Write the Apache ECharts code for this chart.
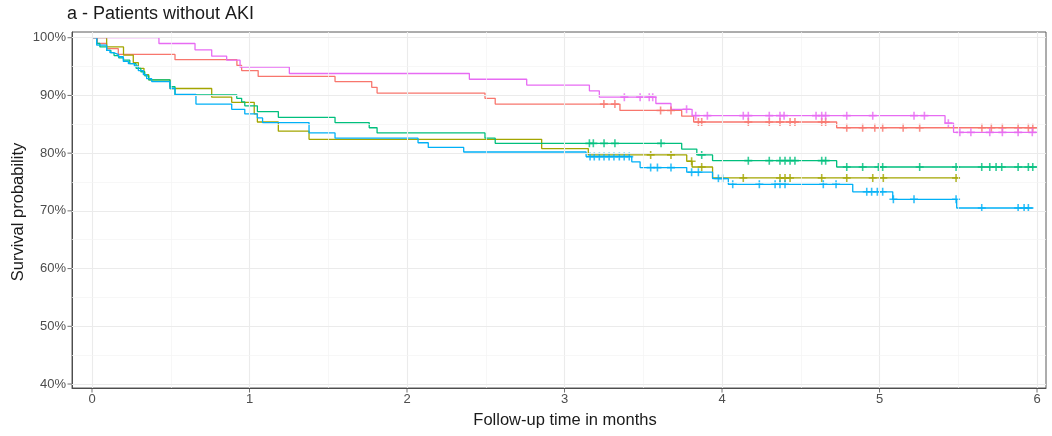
<!DOCTYPE html>
<html>
<head>
<meta charset="utf-8">
<script src="https://cdn.jsdelivr.net/npm/echarts@6/dist/echarts.min.js"></script>
<style>
  html, body { margin: 0; padding: 0; background: #ffffff; }
  #chart { width: 1052px; height: 436px; }
</style>
</head>
<body>
<div id="chart"></div>
<script>
// Kaplan-Meier estimates: each step time and the survival reached at it
const redTimes = [0, 0.034, 0.093, 0.167, 0.527, 0.92, 0.95, 1.055, 1.543, 1.776, 1.81, 2.495, 2.56, 3.352, 3.744, 3.82, 4.728];
const redSurv  = [1.0, 0.990, 0.981, 0.971, 0.962, 0.952, 0.943, 0.933, 0.924, 0.914, 0.904, 0.895, 0.885, 0.874, 0.864, 0.854, 0.844];
const redEnd = 6.0;
const redCensor = [3.25, 3.32, 3.61, 3.676, 3.85, 3.871, 4.167, 4.30, 4.368, 4.432, 4.463, 4.633, 4.658, 4.792, 4.893, 4.97, 5.02, 5.15, 5.255, 5.65, 5.71, 5.78, 5.88, 5.945, 5.973];

const oliveTimes = [0, 0.093, 0.2, 0.262, 0.294, 0.33, 0.36, 0.495, 0.76, 0.887, 1.03, 1.05, 1.183, 1.378, 2.855, 3.151, 3.776, 3.81, 3.94];
const oliveSurv  = [1.0, 0.984, 0.970, 0.957, 0.947, 0.936, 0.927, 0.912, 0.897, 0.888, 0.868, 0.854, 0.838, 0.824, 0.808, 0.797, 0.786, 0.776, 0.757];
const oliveEnd = 5.51;
const oliveCensor = [3.547, 3.676, 3.807, 3.871, 4.135, 4.368, 4.4, 4.432, 4.633, 4.792, 4.957, 5.024, 5.486];

const greenTimes = [0, 0.03, 0.05, 0.093, 0.12, 0.14, 0.17, 0.2, 0.24, 0.28, 0.31, 0.335, 0.36, 0.495, 0.527, 0.919, 0.95, 0.97, 1.05, 1.183, 1.543, 1.76, 1.81, 2.495, 2.56, 3.744, 3.84, 3.94, 4.728];
const greenSurv  = [1.0, 0.990, 0.984, 0.978, 0.974, 0.969, 0.965, 0.961, 0.955, 0.947, 0.941, 0.934, 0.927, 0.915, 0.901, 0.895, 0.889, 0.882, 0.872, 0.862, 0.853, 0.844, 0.835, 0.826, 0.817, 0.807, 0.797, 0.787, 0.776];
const greenEnd = 6.0;
const greenCensor = [3.158, 3.183, 3.251, 3.32, 3.613, 3.871, 4.167, 4.30, 4.368, 4.4, 4.432, 4.463, 4.633, 4.658, 4.792, 4.893, 4.993, 5.02, 5.255, 5.486, 5.649, 5.70, 5.74, 5.776, 5.88, 5.945, 5.973];

const blueTimes = [0, 0.03, 0.093, 0.114, 0.135, 0.167, 0.199, 0.231, 0.269, 0.294, 0.326, 0.347, 0.379, 0.495, 0.527, 0.66, 0.887, 0.97, 1.05, 1.083, 1.378, 1.543, 2.07, 2.135, 2.36, 3.137, 3.427, 3.48, 3.776, 3.94, 4.04, 4.83, 5.084, 5.49];
const blueSurv  = [1.0, 0.987, 0.978, 0.974, 0.971, 0.967, 0.959, 0.955, 0.951, 0.943, 0.936, 0.929, 0.924, 0.912, 0.902, 0.885, 0.876, 0.868, 0.861, 0.853, 0.835, 0.826, 0.818, 0.810, 0.802, 0.794, 0.785, 0.775, 0.767, 0.756, 0.746, 0.733, 0.720, 0.705];
const blueEnd = 5.977;
const blueCensor = [3.162, 3.189, 3.221, 3.251, 3.283, 3.314, 3.348, 3.379, 3.411, 3.547, 3.59, 3.676, 3.807, 3.85, 3.977, 4.004, 4.068, 4.237, 4.337, 4.368, 4.4, 4.643, 4.724, 4.919, 4.95, 4.986, 5.02, 5.088, 5.219, 5.486, 5.649, 5.88, 5.918, 5.945];

const pinkTimes = [0, 0.425, 0.654, 0.76, 0.855, 0.94, 1.253, 2.396, 2.76, 3.158, 3.221, 3.58, 3.676, 3.81, 5.416, 5.47];
const pinkSurv  = [1.0, 0.990, 0.979, 0.968, 0.961, 0.949, 0.938, 0.928, 0.918, 0.908, 0.897, 0.886, 0.876, 0.865, 0.852, 0.836];
const pinkEnd = 6.0;
const pinkCensor = [3.38, 3.48, 3.538, 3.56, 3.775, 3.833, 3.907, 4.135, 4.167, 4.30, 4.368, 4.394, 4.597, 4.633, 4.658, 4.792, 4.957, 5.219, 5.285, 5.437, 5.51, 5.58, 5.70, 5.78, 5.88, 5.97];

// Axis ticks
const xTicks = [0, 1, 2, 3, 4, 5, 6];
const xMinor = [0.5, 1.5, 2.5, 3.5, 4.5, 5.5];
const yTicks = [0.4, 0.5, 0.6, 0.7, 0.8, 0.9, 1.0];
const yMinor = [0.45, 0.55, 0.65, 0.75, 0.85, 0.95];

const X_MIN = -0.127, X_MAX = 6.057;
const Y_MIN = 0.3931, Y_MAX = 1.0099;

const groups = [
  { name: 'g1', color: '#F8766D', times: redTimes,   surv: redSurv,   end: redEnd,   censor: redCensor },
  { name: 'g2', color: '#A3A500', times: oliveTimes, surv: oliveSurv, end: oliveEnd, censor: oliveCensor },
  { name: 'g3', color: '#00BF7D', times: greenTimes, surv: greenSurv, end: greenEnd, censor: greenCensor },
  { name: 'g4', color: '#00B0F6', times: blueTimes,  surv: blueSurv,  end: blueEnd,  censor: blueCensor },
  { name: 'g5', color: '#E76BF3', times: pinkTimes,  surv: pinkSurv,  end: pinkEnd,  censor: pinkCensor }
];

function survivalAt(times, surv, t) {
  let v = surv[0];
  for (let i = 0; i < times.length; i++) {
    if (times[i] <= t) v = surv[i]; else break;
  }
  return v;
}

const FONT = 'Liberation Sans, Arial, sans-serif';
const PLUS = 'path://M4,0H6V4H10V6H6V10H4V6H0V4H4Z';
const AXIS_GREY = '#4d4d4d';

const gridLines = [];
xTicks.forEach(v => gridLines.push({ xAxis: v, lineStyle: { color: '#ebebeb', width: 1.1, type: 'solid' } }));
xMinor.forEach(v => gridLines.push({ xAxis: v, lineStyle: { color: '#f4f4f4', width: 0.7, type: 'solid' } }));
yTicks.forEach(v => gridLines.push({ yAxis: v, lineStyle: { color: '#ebebeb', width: 1.1, type: 'solid' } }));
yMinor.forEach(v => gridLines.push({ yAxis: v, lineStyle: { color: '#f4f4f4', width: 0.7, type: 'solid' } }));

const series = [{
  type: 'line',
  data: [[0, 1]],
  showSymbol: false,
  lineStyle: { opacity: 0 },
  z: 1,
  silent: true,
  markLine: {
    silent: true,
    symbol: ['none', 'none'],
    label: { show: false },
    animation: false,
    data: gridLines
  }
}];

// Outside tick marks on the left and bottom axis lines
series.push({
  type: 'scatter',
  data: yTicks.map(v => [X_MIN, v]),
  symbol: 'rect',
  symbolSize: [4, 1],
  symbolOffset: [-2.5, 0],
  itemStyle: { color: AXIS_GREY },
  clip: false,
  silent: true,
  z: 5
});
series.push({
  type: 'scatter',
  data: xTicks.map(v => [v, Y_MIN]),
  symbol: 'rect',
  symbolSize: [1, 4],
  symbolOffset: [0, 2.5],
  itemStyle: { color: AXIS_GREY },
  clip: false,
  silent: true,
  z: 5
});

groups.forEach(g => {
  const pts = g.times.map((t, i) => [t, g.surv[i]]);
  pts.push([g.end, g.surv[g.surv.length - 1]]);
  series.push({
    name: g.name,
    type: 'line',
    step: 'end',
    data: pts,
    showSymbol: false,
    lineStyle: { color: g.color, width: 1.3 },
    z: 3
  });
  series.push({
    name: g.name,
    type: 'scatter',
    data: g.censor.map(t => [t, survivalAt(g.times, g.surv, t)]),
    symbol: PLUS,
    symbolSize: 8,
    itemStyle: { color: g.color },
    z: 4
  });
});

const chart = echarts.init(document.getElementById('chart'), null, { renderer: 'canvas' });
chart.setOption({
  animation: false,
  backgroundColor: '#ffffff',
  grid: {
    left: 72, right: 6, top: 32, bottom: 48,
    show: true, borderColor: '#5a5a5a', borderWidth: 1, backgroundColor: 'transparent'
  },
  xAxis: {
    type: 'value',
    min: X_MIN,
    max: X_MAX,
    axisLine: { show: true, onZero: false, lineStyle: { color: AXIS_GREY, width: 1 } },
    axisTick: { show: false },
    axisLabel: { customValues: xTicks, color: AXIS_GREY, fontSize: 13, fontFamily: FONT, margin: 5 },
    splitLine: { show: false }
  },
  yAxis: {
    type: 'value',
    min: Y_MIN,
    max: Y_MAX,
    axisLine: { show: true, onZero: false, lineStyle: { color: AXIS_GREY, width: 1 } },
    axisTick: { show: false },
    axisLabel: {
      customValues: yTicks, color: AXIS_GREY, fontSize: 13, fontFamily: FONT, margin: 6,
      formatter: v => Math.round(v * 100) + '%'
    },
    splitLine: { show: false }
  },
  graphic: [
    { type: 'text', left: 67, top: 5, style: { text: 'a - Patients without AKI', font: '18px ' + FONT, fill: '#1a1a1a' } },
    { type: 'text', x: 565, y: 420, style: { text: 'Follow-up time in months', font: '16.5px ' + FONT, fill: '#1a1a1a', align: 'center', verticalAlign: 'middle' } },
    { type: 'text', x: 18, y: 212, rotation: Math.PI / 2, style: { text: 'Survival probability', font: '16.5px ' + FONT, fill: '#1a1a1a', align: 'center', verticalAlign: 'middle' } }
  ],
  series: series
});
</script>
</body>
</html>
